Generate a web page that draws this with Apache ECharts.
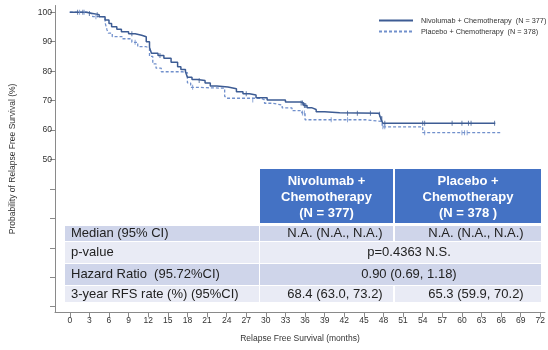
<!DOCTYPE html>
<html>
<head>
<meta charset="utf-8">
<script src="https://cdn.jsdelivr.net/npm/echarts@6/dist/echarts.min.js"></script>
<style>
html,body{margin:0;padding:0;background:#fff;}
#c{width:548px;height:350px;}
</style>
</head>
<body>
<div id="c"></div>
<script>
// ---------- data ----------
var nivoName = 'Nivolumab + Chemotherapy  (N = 377)';
var placName = 'Placebo + Chemotherapy  (N = 378)';

// Kaplan-Meier steps [month, survival %]
var nivoSteps = [
  [0,100],[2.5,99.6],[3.5,99.2],[4.5,98.5],[5.4,97.4],[6.0,96.2],[6.4,95.1],[7.2,94.2],
  [7.9,93.4],[9.0,92.7],[10.0,92.2],[11.0,91.7],[11.7,90.0],[12.2,88.0],[12.5,86.1],
  [13.5,85.3],[14.4,84.4],[15.5,83.0],[16.5,81.5],[17.0,80.6],[17.7,79.8],[18.0,77.9],
  [18.7,77.2],[19.5,76.8],[20.7,76.0],[21.5,75.0],[22.5,74.6],[24.2,74.0],[25.5,73.0],
  [26.5,72.3],[27.5,71.9],[28.5,71.0],[30.2,70.2],[33.0,69.5],[35.3,69.2],[35.8,68.3],
  [36.3,67.6],[37.0,67.0],[37.7,66.2],[39.0,65.9],[41.3,65.7],[47.3,65.4],[47.6,63.8],
  [47.9,62.3],[65.1,62.3]
];
var placSteps = [
  [0,100],[2.7,99.4],[3.5,98.5],[5.4,96.5],[5.7,94.0],[5.9,92.9],[6.5,91.7],[8.0,91.0],
  [9.5,89.8],[10.4,88.3],[11.7,87.8],[12.2,85.0],[12.7,82.5],[13.2,81.0],[14.0,79.8],
  [17.2,79.5],[18.0,76.0],[18.5,74.5],[19.5,74.2],[23.7,71.5],[24.0,70.8],[29.3,70.2],
  [29.8,69.1],[31.0,68.5],[32.5,67.5],[34.0,66.6],[35.5,65.8],[36.0,63.5],[45.3,62.9],
  [47.8,61.1],[54.0,59.1],[65.9,59.1]
];
// censoring marks [month, survival %]
var nivoCensor = [
  [1.2,100],[2.0,100],[3.0,99.6],[4.2,99.2],[9.5,92.7],[13.8,85.3],[19.8,76.8],[27.0,72.3],
  [35.4,69.2],[35.6,69.2],[35.9,68.3],[36.1,68.3],[42.5,65.7],[44.0,65.7],[46.0,65.7],
  [47.4,65.4],[47.65,63.8],[47.75,63.8],[48.2,62.3],[54.0,62.3],[54.3,62.3],[58.5,62.3],
  [60.0,62.3],[61.0,62.3],[61.4,62.3],[65.0,62.3]
];
var placCensor = [
  [1.5,100],[2.2,100],[4.0,98.5],[10.0,89.8],[18.8,74.5],[28.0,70.2],[35.6,65.8],[35.9,65.8],
  [40.0,63.5],[42.5,63.5],[47.9,61.1],[48.2,61.1],[54.3,59.1],[60.0,59.1],[60.4,59.1],[60.8,59.1]
];

var xTicks = [0,3,6,9,12,15,18,21,24,27,30,33,36,39,42,45,48,51,54,57,60,63,66,69,72];
var yTicks = [0,10,20,30,40,50,60,70,80,90,100];
var yLabels = [50,60,70,80,90,100];

// table
var headNivo = ['Nivolumab +','Chemotherapy','(N = 377)'];
var headPlac = ['Placebo +','Chemotherapy','(N = 378 )'];
var rowLabels = ['Median (95% CI)','p-value','Hazard Ratio  (95.72%CI)','3-year RFS rate (%) (95%CI)'];
var colNivo = ['N.A. (N.A., N.A.)', null, null, '68.4 (63.0, 73.2)'];
var colPlac = ['N.A. (N.A., N.A.)', null, null, '65.3 (59.9, 70.2)'];
var colMerged = [null, 'p=0.4363 N.S.', '0.90 (0.69, 1.18)', null];

// ---------- chart ----------
var FONT = 'Liberation Sans, Arial, sans-serif';
var solidColor = '#3d5c94';
var dashColor = '#7190cc';

// table layout
var rowY = [226, 242, 264, 286];
var rowH = [15, 21, 21, 16];
var rowColor = ['#cfd5ea', '#e9ebf5', '#cfd5ea', '#e9ebf5'];
var c1x = 65, c1w = 194, c2x = 260, c2w = 133, c3x = 395, c3w = 146;
var graphics = [];
graphics.push({type:'rect', shape:{x:c2x, y:169, width:c2w, height:54}, style:{fill:'#4472c4'}});
graphics.push({type:'rect', shape:{x:c3x, y:169, width:c3w, height:54}, style:{fill:'#4472c4'}});
for (var h = 0; h < 3; h++) {
  graphics.push({type:'text', x:c2x + c2w/2, y:181 + h*16,
    style:{text:headNivo[h], fill:'#fff', font:'bold 13px ' + FONT, textAlign:'center', textVerticalAlign:'middle'}});
  graphics.push({type:'text', x:c3x + c3w/2, y:181 + h*16,
    style:{text:headPlac[h], fill:'#fff', font:'bold 13px ' + FONT, textAlign:'center', textVerticalAlign:'middle'}});
}
for (var r = 0; r < 4; r++) {
  var cy = rowY[r] + rowH[r]/2;
  graphics.push({type:'rect', shape:{x:c1x, y:rowY[r], width:c1w, height:rowH[r]}, style:{fill:rowColor[r]}});
  graphics.push({type:'text', x:71, y:cy, style:{text:rowLabels[r], fill:'#222', font:'13px ' + FONT, textVerticalAlign:'middle'}});
  if (colMerged[r]) {
    graphics.push({type:'rect', shape:{x:c2x, y:rowY[r], width:c3x + c3w - c2x, height:rowH[r]}, style:{fill:rowColor[r]}});
    graphics.push({type:'text', x:409, y:cy, style:{text:colMerged[r], fill:'#222', font:'13px ' + FONT, textAlign:'center', textVerticalAlign:'middle'}});
  } else {
    graphics.push({type:'rect', shape:{x:c2x, y:rowY[r], width:c2w, height:rowH[r]}, style:{fill:rowColor[r]}});
    graphics.push({type:'rect', shape:{x:c3x, y:rowY[r], width:c3w, height:rowH[r]}, style:{fill:rowColor[r]}});
    graphics.push({type:'text', x:335, y:cy, style:{text:colNivo[r], fill:'#222', font:'13px ' + FONT, textAlign:'center', textVerticalAlign:'middle'}});
    graphics.push({type:'text', x:476, y:cy, style:{text:colPlac[r], fill:'#222', font:'13px ' + FONT, textAlign:'center', textVerticalAlign:'middle'}});
  }
}

var chart = echarts.init(document.getElementById('c'), null, {renderer:'canvas'});
chart.setOption({
  animation: false,
  backgroundColor: '#fff',
  grid: {left: 47, right: 3, top: 5.5, bottom: 37.7, containLabel: false},
  legend: {
    data: [nivoName, placName],
    orient: 'vertical',
    left: 378, top: 17,
    itemWidth: 34, itemHeight: 8, itemGap: 4, padding: 0,
    itemStyle: {opacity: 0},
    textStyle: {fontFamily: FONT, fontSize: 7.3, color: '#333', padding: [0,0,0,3]}
  },
  xAxis: {
    type: 'value', min: -2.26, max: 72.7,
    name: 'Relapse Free Survival (months)', nameLocation: 'middle', nameGap: 22,
    nameTextStyle: {fontFamily: FONT, fontSize: 8.5, color: '#333'},
    axisLine: {onZero: false, lineStyle: {color: '#8a8a8a', width: 1}},
    axisTick: {customValues: xTicks, length: 5, lineStyle: {color: '#8a8a8a'}},
    axisLabel: {customValues: xTicks, margin: 4, fontFamily: FONT, fontSize: 8.5, color: '#333'},
    splitLine: {show: false}
  },
  yAxis: {
    type: 'value', min: -1.9, max: 102.3,
    name: 'Probability of Relapse Free Survival (%)', nameLocation: 'middle', nameGap: 38,
    nameTextStyle: {fontFamily: FONT, fontSize: 8.5, color: '#333'},
    axisLine: {show: true, onZero: false, lineStyle: {color: '#8a8a8a', width: 1}},
    axisTick: {show: true, customValues: yTicks, length: 5, lineStyle: {color: '#8a8a8a'}},
    axisLabel: {customValues: yLabels, margin: 3, fontFamily: FONT, fontSize: 8.5, color: '#333'},
    splitLine: {show: false}
  },
  series: [
    {name: nivoName, type: 'line', step: 'end', data: nivoSteps, symbol: 'none',
     lineStyle: {color: solidColor, width: 1.5, type: 'solid'}, itemStyle: {color: solidColor}, z: 3},
    {name: placName, type: 'line', step: 'end', data: placSteps, symbol: 'none',
     lineStyle: {color: dashColor, width: 1.3, type: [3, 2]}, itemStyle: {color: dashColor}, z: 2},
    {name: 'nivoCensor', type: 'scatter', data: nivoCensor, symbol: 'rect', symbolSize: [1, 5],
     itemStyle: {color: solidColor}, z: 4},
    {name: 'placCensor', type: 'scatter', data: placCensor, symbol: 'rect', symbolSize: [1, 5],
     itemStyle: {color: dashColor}, z: 4}
  ],
  graphic: graphics
});
</script>
</body>
</html>
